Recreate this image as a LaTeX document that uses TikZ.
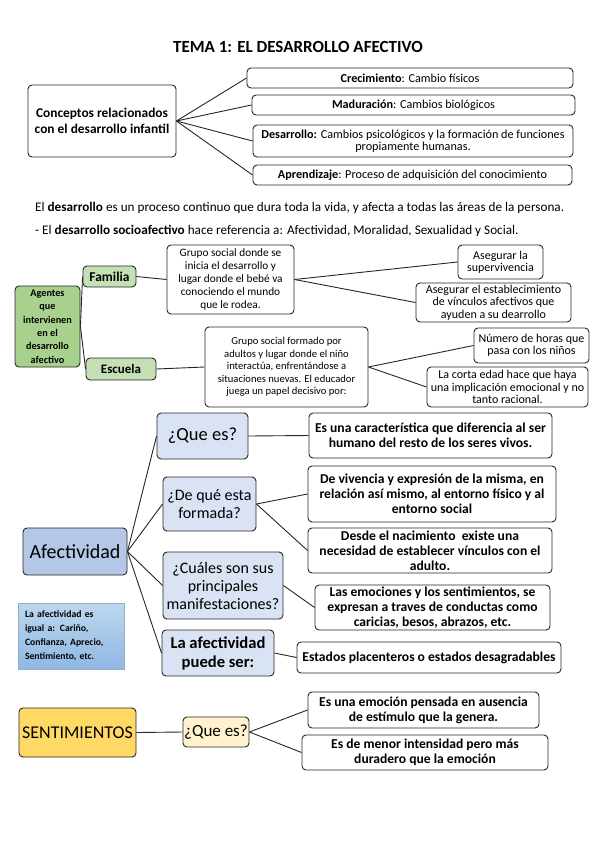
\documentclass[tikz,border=0pt]{standalone}
\usepackage{fontspec}
\setmainfont{Carlito}
\definecolor{verdeA}{HTML}{A9D18E}
\definecolor{verdeB}{HTML}{C5E0B4}
\definecolor{azulA}{HTML}{B4C7E7}
\definecolor{azulB}{HTML}{DAE3F3}
\definecolor{azulC}{HTML}{BDD7EE}
\definecolor{azulD}{HTML}{8FB8E3}
\definecolor{oroA}{HTML}{FFD966}
\definecolor{oroB}{HTML}{FFF2CC}
\begin{document}
\begin{tikzpicture}[x = 1pt, y = -1pt,
  box/.style = {draw = black!85, line width = 0.9pt, rounded corners = 4pt, fill = white,
    align = center, inner sep = 0pt},
  link/.style = {draw = black!85, line width = 0.9pt},
  small/.style = {font = \fontsize{12.2}{12.5}\selectfont},
  grupo/.style = {font = \fontsize{10.6}{12.6}\selectfont},
  right/.style = {font = \fontsize{12}{12.4}\selectfont},
  mid/.style = {font = \bfseries\fontsize{13.6}{15}\selectfont}]
\useasboundingbox (0, 0) rectangle (599, 848);

\node[font = \bfseries\fontsize{17}{19}\selectfont] (title) at (298, 47) {TEMA 1: EL DESARROLLO AFECTIVO};

\node[box, minimum width = 148, minimum height = 72, font = \bfseries\fontsize{13.4}{16.5}\selectfont] (concepts) at (102, 121) {Conceptos relacionados\\con el desarrollo infantil};
\node[box, small, minimum width = 326, minimum height = 20] (crec) at (410, 78) {\textbf{Crecimiento}: Cambio físicos};
\node[box, small, minimum width = 323, minimum height = 20] (madur) at (413.5, 105) {\textbf{Maduración}: Cambios biológicos};
\node[box, small, minimum width = 320, minimum height = 32] (desarr) at (413, 141) {\textbf{Desarrollo:} Cambios psicológicos y la formación de funciones\\propiamente humanas.};
\node[box, small, minimum width = 319, minimum height = 20] (aprend) at (412.5, 175) {\textbf{Aprendizaje}: Proceso de adquisición del conocimiento};
\draw[link] (concepts.east) -- (crec.west);
\draw[link] (concepts.east) -- (madur.west);
\draw[link] (concepts.east) -- (desarr.west);
\draw[link] (concepts.east) -- (aprend.west);

\node[anchor = west, inner sep = 0pt, font = \fontsize{13.2}{14}\selectfont] (line1) at (35, 208) {El \textbf{desarrollo} es un proceso continuo que dura toda la vida, y afecta a todas las áreas de la persona.};
\node[anchor = west, inner sep = 0pt, font = \fontsize{13.2}{14}\selectfont] (line2) at (35, 231) {- El \textbf{desarrollo socioafectivo} hace referencia a: Afectividad, Moralidad, Sexualidad y Social.};

\node[box, fill = verdeA, minimum width = 65, minimum height = 81, font = \bfseries\fontsize{10.2}{13.3}\selectfont] (agentes) at (47.5, 326.5) {Agentes\\que\\intervienen\\en el\\desarrollo\\afectivo};
\node[box, fill = verdeB, minimum width = 53, minimum height = 21, font = \bfseries\fontsize{13.5}{14}\selectfont] (familia) at (109.5, 276.5) {Familia};
\node[box, fill = verdeB, minimum width = 70, minimum height = 22, font = \bfseries\fontsize{13}{14}\selectfont] (escuela) at (121, 369) {Escuela};
\node[box, font = \fontsize{11.3}{12.8}\selectfont, minimum width = 127, minimum height = 69] (grupoA) at (230.5, 279.5) {Grupo social donde se\\inicia el desarrollo y\\lugar donde el bebé va\\conociendo el mundo\\que le rodea.};
\node[box, grupo, minimum width = 163, minimum height = 80] (grupoB) at (286.5, 367) {Grupo social formado por\\adultos y lugar donde el niño\\interactúa, enfrentándose a\\situaciones nuevas. El educador\\juega un papel decisivo por:};
\node[box, right, minimum width = 85, minimum height = 34] (superv) at (500.5, 262) {Asegurar la\\supervivencia};
\node[box, right, minimum width = 155, minimum height = 39] (vinculos) at (493.5, 302.5) {Asegurar el establecimiento\\de vínculos afectivos que\\ayuden a su dearrollo};
\node[box, right, minimum width = 115, minimum height = 35] (horas) at (531.5, 345.5) {Número de horas que\\pasa con los niños};
\node[box, right, minimum width = 161, minimum height = 40] (corta) at (507.5, 387) {La corta edad hace que haya\\una implicación emocional y no\\tanto racional.};
\draw[link] (agentes.east) -- (familia.west);
\draw[link] (agentes.east) -- (escuela.west);
\draw[link] (familia.east) -- (grupoA.west);
\draw[link] (escuela.east) -- (grupoB.west);
\draw[link] (grupoA.east) -- (superv.west);
\draw[link] (grupoA.east) -- (vinculos.west);
\draw[link] (grupoB.east) -- (horas.west);
\draw[link] (grupoB.east) -- (corta.west);

\node[box, fill = azulA, minimum width = 104, minimum height = 47, font = \fontsize{20}{22}\selectfont] (afect) at (75, 551.5) {Afectividad};
\node[box, fill = azulB, minimum width = 91, minimum height = 46, font = \fontsize{18.5}{20}\selectfont] (queA) at (202.5, 436) {¿Que es?};
\node[box, fill = azulB, minimum width = 93, minimum height = 54, font = \fontsize{16}{18}\selectfont] (formada) at (209.5, 504) {¿De qué esta\\formada?};
\node[box, fill = azulB, minimum width = 120, minimum height = 67, font = \fontsize{16}{18}\selectfont] (manif) at (223, 585.5) {¿Cuáles son sus\\principales\\manifestaciones?};
\node[box, fill = azulB, minimum width = 112, minimum height = 46, font = \bfseries\fontsize{16.6}{19}\selectfont] (puede) at (218, 653) {La afectividad\\puede ser:};
\node[draw = azulC!80!black, top color = azulC, bottom color = azulD, line width = 0.6pt, minimum width = 106, minimum height = 66,
  text width = 92, inner xsep = 7pt, align = left, font = \bfseries\fontsize{9.7}{14}\selectfont] (igual) at (71, 636) {La afectividad es\\igual a: Cariño,\\Confianza, Aprecio,\\Sentimiento, etc.};
\node[box, mid, minimum width = 243, minimum height = 45] (caract) at (430.5, 435.5) {Es una característica que diferencia al ser\\humano del resto de los seres vivos.};
\node[box, mid, minimum width = 248, minimum height = 56] (vivencia) at (432, 494) {De vivencia y expresión de la misma, en\\relación así mismo, al entorno físico y al\\entorno social};
\node[box, mid, minimum width = 244, minimum height = 45] (nacim) at (430, 550.5) {Desde el nacimiento \ existe una\\necesidad de establecer vínculos con el\\adulto.};
\node[box, mid, minimum width = 235, minimum height = 45] (emoc) at (432.5, 607.5) {Las emociones y los sentimientos, se\\expresan a traves de conductas como\\caricias, besos, abrazos, etc.};
\node[box, mid, minimum width = 264, minimum height = 31] (estados) at (429, 657.5) {Estados placenteros o estados desagradables};
\draw[link] (afect.east) -- (queA.west);
\draw[link] (afect.east) -- (formada.west);
\draw[link] (afect.east) -- (manif.west);
\draw[link] (afect.east) -- (puede.west);
\draw[link] (queA.east) -- (caract.west);
\draw[link] (formada.east) -- (vivencia.west);
\draw[link] (formada.east) -- (nacim.west);
\draw[link] (manif.east) -- (emoc.west);
\draw[link] (puede.east) -- (estados.west);

\node[box, fill = oroA, minimum width = 117, minimum height = 49, font = \fontsize{18}{20}\selectfont] (sent) at (77.5, 732.5) {SENTIMIENTOS};
\node[box, fill = oroB, minimum width = 66, minimum height = 30, font = \fontsize{17}{18}\selectfont] (queB) at (216, 732) {¿Que es?};
\node[box, mid, minimum width = 231, minimum height = 36] (pensada) at (423.5, 710) {Es una emoción pensada en ausencia\\de estímulo que la genera.};
\node[box, mid, minimum width = 246, minimum height = 35] (menor) at (425, 752.5) {Es de menor intensidad pero más\\duradero que la emoción};
\draw[link] (sent.east) -- (queB.west);
\draw[link] (queB.east) -- (pensada.west);
\draw[link] (queB.east) -- (menor.west);
\end{tikzpicture}
\end{document}
